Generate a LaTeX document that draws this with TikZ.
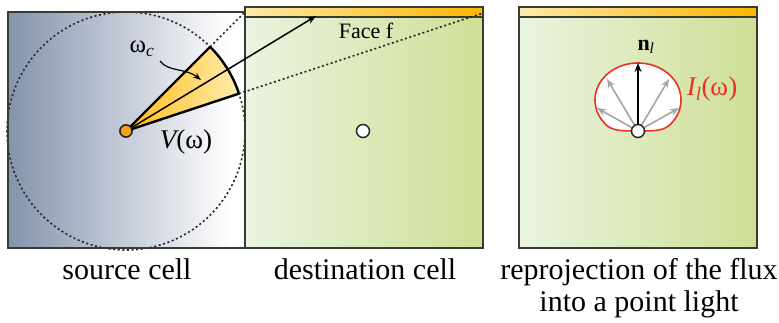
\documentclass[tikz,border=0pt]{standalone}
\usepackage{fontspec}
\setmainfont{LiberationSerif}[Extension=.ttf,UprightFont=*-Regular,ItalicFont=*-Italic,BoldFont=*-Bold,BoldItalicFont=*-BoldItalic]
\usetikzlibrary{arrows.meta,calc}
\definecolor{srcL}{RGB}{132,147,172}
\definecolor{dstL}{RGB}{234,244,224}
\definecolor{dstR}{RGB}{206,223,150}
\definecolor{faceL}{RGB}{255,234,170}
\definecolor{faceR}{RGB}{255,180,0}
\definecolor{wedgeIn}{RGB}{255,190,20}
\definecolor{wedgeOut}{RGB}{255,236,175}
\definecolor{frame}{RGB}{55,60,50}
\definecolor{lobe}{RGB}{235,50,35}
\definecolor{grayarr}{RGB}{165,165,165}
\definecolor{ptorange}{RGB}{245,165,20}
\tikzset{
  framebox/.style={draw=frame,line width=1.6pt},
  dotline/.style={draw=black!85,line width=1.6pt,dash pattern=on 2pt off 2.6pt},
  caption/.style={font=\rmfamily\fontsize{30}{32}\selectfont,anchor=base,inner sep=0pt},
  lbl/.style={inner sep=0pt},
  ptnode/.style={circle,draw=black!85,line width=1.5pt,minimum size=13pt,inner sep=0pt},
  tip/.style={-{Stealth[length=9pt,width=7pt]}},
}
\begin{document}
\begin{tikzpicture}[x=1pt,y=-1pt]
\useasboundingbox (0,0) rectangle (779,323);
% --- backgrounds
\shade[left color=srcL,right color=white] (8,12) rectangle (230,248);
\fill[white] (229,12) rectangle (245,248);
\shade[left color=dstL,right color=dstR] (245,7) rectangle (483,248);
\shade[left color=dstL,right color=dstR] (519,7) rectangle (757,248);
\shade[left color=faceL,right color=faceR] (245,7) rectangle (483,17);
\shade[left color=faceL,right color=faceR] (519,7) rectangle (757,17);
% --- points and coordinates
\node[ptnode,fill=ptorange,minimum size=12pt] (src) at (126,131) {};
\node[ptnode,fill=white] (dst) at (363,131) {};
\coordinate (faceA) at (245,12);
\coordinate (faceB) at (483,13);
\coordinate (hit) at (316,16);
\coordinate (wA) at ($(src.center)!119pt!(faceA)$);
\coordinate (wB) at ($(src.center)!119pt!(faceB)$);
% --- dotted circle
\draw[dotline] (src.center) circle[radius=119];
% --- frames
\draw[framebox] (8,12) rectangle (245,248);
\draw[framebox] (245,7) rectangle (483,248);
\draw[framebox] (245,7) rectangle (483,17);
\draw[framebox] (519,7) rectangle (757,248);
\draw[framebox] (519,7) rectangle (757,17);
% --- wedge
\shade[left color=wedgeIn,right color=wedgeOut]
  (src.center) -- plot[domain=-45:-18.3,samples=30] ({126+119*cos(\x)},{131+119*sin(\x)}) -- cycle;
\draw[line width=2.4pt,line join=round]
  (src.center) -- plot[domain=-45:-18.3,samples=30] ({126+119*cos(\x)},{131+119*sin(\x)}) -- cycle;
\draw[dotline] (wA) -- (faceA);
\draw[dotline] (wB) -- (faceB);
\draw[tip,line width=1.5pt] (src.center) -- (hit);
\node[ptnode,fill=ptorange,minimum size=12pt] at (src.center) {};
% --- labels source
\node[lbl,font=\fontsize{25}{25}\selectfont] (wc) at (142,49) {ω\textsubscript{\itshape c}};
\coordinate (wcs) at (160,61);
\coordinate (wct) at (201,80);
\draw[-{Stealth[length=8pt,width=6pt]},line width=1.2pt] (wcs) .. controls (168,72) and (186,68) .. (wct);
\node[lbl,font=\fontsize{27}{27}\selectfont] (vw) at (186,142) {{\itshape V}(ω)};
\node[lbl,font=\fontsize{22}{22}\selectfont] (face) at (366,31) {Face f};
% --- third panel
\node[ptnode,fill=white,draw=none] (pl) at (638,131) {};
\filldraw[fill=white,draw=lobe,line width=1.6pt]
  plot[domain=-220:40,samples=60] ({638+43*cos(\x)},{100+37*sin(\x)})
  .. controls (664,131) and (655,131) .. (638,131)
  .. controls (621,131) and (612,131) .. cycle;
\coordinate (g1) at (607,79);
\coordinate (g2) at (597,108);
\coordinate (g3) at (669,79);
\coordinate (g4) at (679,108);
\coordinate (nt) at (638,63);
\foreach \g in {g1,g2,g3,g4}
  \draw[tip,draw=grayarr,fill=grayarr,line width=1.6pt] (pl.center) -- (\g);
\draw[tip,line width=1.6pt] (pl.center) -- (nt);
\node[ptnode,fill=white] at (pl.center) {};
\node[lbl,font=\fontsize{22}{22}\selectfont] (nl) at (646,47) {{\bfseries n}\textsubscript{\itshape l}};
\node[lbl,font=\fontsize{27}{27}\selectfont,text=lobe] (il) at (712,89) {{\itshape I}\textsubscript{\itshape l}(ω)};
% --- captions
\node[caption] (c1) at (127,279) {source cell};
\node[caption] (c2) at (365,279) {destination cell};
\node[caption] (c3) at (639,279) {reprojection of the flux};
\node[caption] (c4) at (639,311) {into a point light};
\end{tikzpicture}
\end{document}
